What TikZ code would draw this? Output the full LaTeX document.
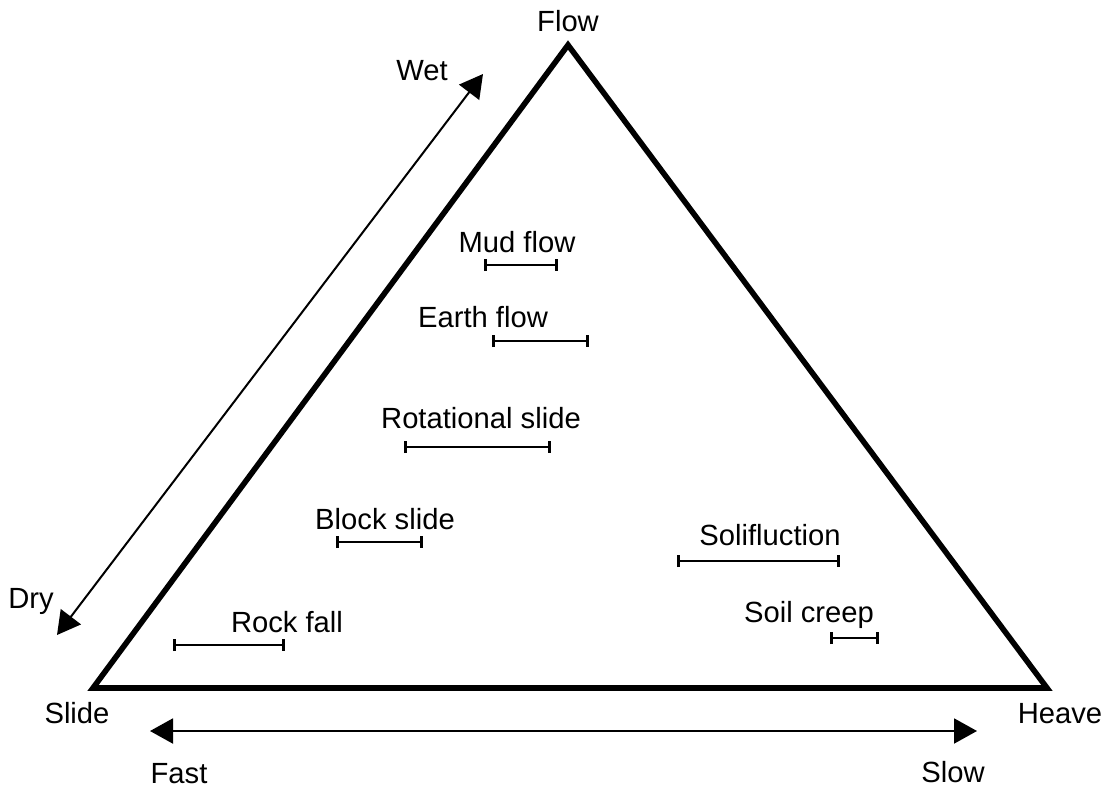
\documentclass[tikz,border=0pt]{standalone}
\usepackage{fontspec}
\setmainfont{Liberation Sans}
\usetikzlibrary{arrows.meta, positioning}

\begin{document}
\begin{tikzpicture}[x=0.5pt, y=-0.5pt, font=\fontsize{14.6}{16}\selectfont,
    side/.style={line width=2.8pt, line join=miter},
    axisarrow/.style={{Triangle[length=11.5pt,width=12.5pt]}-{Triangle[length=11.5pt,width=12.5pt]}, line width=1pt},
    spanbar/.style={{Bar[width=6pt]}-{Bar[width=6pt]}, line width=1.4pt},
    txt/.style={anchor=base, inner sep=0pt}]
    \useasboundingbox (0,0) rectangle (1108,787);

    \coordinate (apexflow) at (568,45);
    \coordinate (cornerslide) at (93,688);
    \coordinate (cornerheave) at (1047,688);
    \draw[side] (cornerslide) -- (apexflow) -- (cornerheave) -- cycle;

    \node[txt] (flow) at (568,32) {Flow};
    \node[txt] (slide) at (77,723) {Slide};
    \node[txt] (heave) at (1060,723) {Heave};

    \coordinate (dryend) at (57,635);
    \coordinate (wetend) at (483,74);
    \draw[axisarrow] (dryend) -- (wetend);
    \node[txt] (wet) at (422,80) {Wet};
    \node[txt] (dry) at (31,608) {Dry};

    \coordinate (fastend) at (150,731);
    \coordinate (slowend) at (977,731);
    \draw[axisarrow] (fastend) -- (slowend);
    \node[txt] (fast) at (179,783) {Fast};
    \node[txt] (slow) at (953,782) {Slow};

    \node[txt] (mudflow) at (517,252) {Mud flow};
    \draw[spanbar] (484,265) -- (558,265);

    \node[txt] (earthflow) at (483,327) {Earth flow};
    \draw[spanbar] (492,341) -- (589,341);

    \node[txt] (rotslide) at (481,428) {Rotational slide};
    \draw[spanbar] (404,447) -- (551,447);

    \node[txt] (blockslide) at (385,529) {Block slide};
    \draw[spanbar] (336,542) -- (423,542);

    \node[txt] (rockfall) at (287,632) {Rock fall};
    \draw[spanbar] (173,645) -- (285,645);

    \node[txt] (solifluction) at (770,545) {Solifluction};
    \draw[spanbar] (677,561) -- (840,561);

    \node[txt] (soilcreep) at (809,622) {Soil creep};
    \draw[spanbar] (830,638) -- (879,638);
\end{tikzpicture}
\end{document}
